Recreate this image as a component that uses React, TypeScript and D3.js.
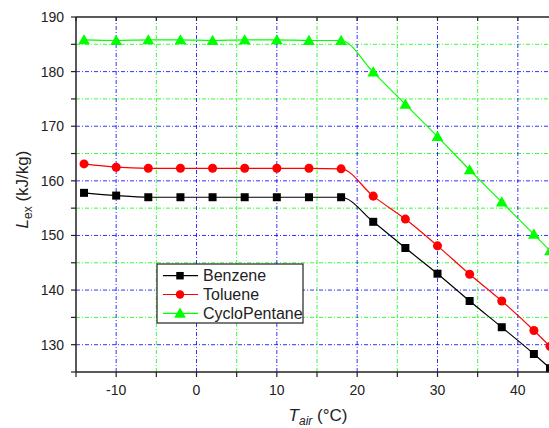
import React, { useEffect, useRef } from 'react';
import * as d3 from 'd3';

// air temperature (°C)
const tAir = [-14, -10, -6, -2, 2, 6, 10, 14, 18, 22, 26, 30, 34, 38, 42, 44];

// exergy loss (kJ/kg) for each fluid
const benzene = [157.8, 157.3, 157.0, 157.0, 157.0, 157.0, 157.0, 157.0, 157.0, 152.5, 147.7, 143.0, 138.0, 133.2, 128.3, 125.7];
const toluene = [163.1, 162.5, 162.3, 162.3, 162.3, 162.3, 162.3, 162.3, 162.2, 157.2, 153.0, 148.1, 142.9, 138.0, 132.6, 129.7];
const cycloPentane = [185.8, 185.7, 185.8, 185.8, 185.7, 185.8, 185.8, 185.7, 185.7, 179.9, 174.0, 168.1, 162.0, 156.1, 150.2, 147.2];

const seriesNames = ['Benzene', 'Toluene', 'CycloPentane'];
const seriesValues = [benzene, toluene, cycloPentane];
const seriesColors = ['#000000', '#ff0000', '#00ff00'];
const seriesSymbols = [d3.symbolSquare, d3.symbolCircle, d3.symbolTriangle];

const xTicks = [-10, 0, 10, 20, 30, 40];
const xMinor = [-15, -5, 5, 15, 25, 35, 45];
const yTicks = [130, 140, 150, 160, 170, 180, 190];
const yMinor = [125, 135, 145, 155, 165, 175, 185];

const App = () => {
  const svgRef = useRef<SVGSVGElement>(null);
  const width = 549;
  const height = 428;

  useEffect(() => {
    const svg = d3.select(svgRef.current);
    svg.selectAll('*').remove();

    const left = 76, top = 17, bottom = 372, right = 558;

    const xScale = d3.scaleLinear().domain([-15, 45]).range([left, right]);
    const yScale = d3.scaleLinear().domain([125, 190]).range([bottom, top]);

    const font = 'Arial, "Liberation Sans", sans-serif';
    const dash = '4,2,1,2';

    // grid
    const grid = svg.append('g');
    xMinor.filter(v => v > -15).forEach(v => {
      grid.append('line')
        .attr('x1', xScale(v)).attr('x2', xScale(v))
        .attr('y1', top).attr('y2', bottom)
        .attr('stroke', '#00ff00').attr('stroke-width', 1)
        .attr('stroke-dasharray', dash).attr('opacity', 0.8);
    });
    yMinor.filter(v => v > 125).forEach(v => {
      grid.append('line')
        .attr('x1', left).attr('x2', right)
        .attr('y1', yScale(v)).attr('y2', yScale(v))
        .attr('stroke', '#00ff00').attr('stroke-width', 1)
        .attr('stroke-dasharray', dash).attr('opacity', 0.8);
    });
    xTicks.forEach(v => {
      grid.append('line')
        .attr('x1', xScale(v)).attr('x2', xScale(v))
        .attr('y1', top).attr('y2', bottom)
        .attr('stroke', '#0000ff').attr('stroke-width', 1)
        .attr('stroke-dasharray', dash).attr('opacity', 0.8);
    });
    yTicks.filter(v => v < 190).forEach(v => {
      grid.append('line')
        .attr('x1', left).attr('x2', right)
        .attr('y1', yScale(v)).attr('y2', yScale(v))
        .attr('stroke', '#0000ff').attr('stroke-width', 1)
        .attr('stroke-dasharray', dash).attr('opacity', 0.8);
    });

    // series
    const line = d3.line<number>()
      .x((d, i) => xScale(tAir[i]))
      .y(d => yScale(d))
      .curve(d3.curveMonotoneX);

    seriesValues.forEach((vals, s) => {
      svg.append('path')
        .datum(vals)
        .attr('fill', 'none')
        .attr('stroke', seriesColors[s])
        .attr('stroke-width', 1.2)
        .attr('d', line);

      const sym = d3.symbol().type(seriesSymbols[s]).size(s === 2 ? 60 : 64);
      svg.selectAll(`.pt-${s}`)
        .data(vals)
        .enter()
        .append('path')
        .attr('class', `pt-${s}`)
        .attr('transform', (d, i) => `translate(${xScale(tAir[i])},${yScale(d) + (s === 2 ? 1 : 0)})`)
        .attr('d', sym)
        .attr('fill', seriesColors[s]);
    });

    // axes frame
    svg.append('line')
      .attr('x1', left).attr('x2', left).attr('y1', top).attr('y2', bottom)
      .attr('stroke', '#222').attr('stroke-width', 1.5);
    svg.append('line')
      .attr('x1', left).attr('x2', right).attr('y1', bottom).attr('y2', bottom)
      .attr('stroke', '#222').attr('stroke-width', 1.5);
    svg.append('line')
      .attr('x1', left).attr('x2', right).attr('y1', top).attr('y2', top)
      .attr('stroke', '#222').attr('stroke-width', 1.5);

    // ticks
    [...xTicks, ...xMinor].forEach(v => {
      svg.append('line')
        .attr('x1', xScale(v)).attr('x2', xScale(v))
        .attr('y1', bottom).attr('y2', bottom + 5)
        .attr('stroke', '#222').attr('stroke-width', 1.2);
      svg.append('line')
        .attr('x1', xScale(v)).attr('x2', xScale(v))
        .attr('y1', top).attr('y2', top + 4)
        .attr('stroke', '#222').attr('stroke-width', 1.2);
    });
    [...yTicks, ...yMinor].forEach(v => {
      svg.append('line')
        .attr('x1', left - 5).attr('x2', left)
        .attr('y1', yScale(v)).attr('y2', yScale(v))
        .attr('stroke', '#222').attr('stroke-width', 1.2);
    });

    xTicks.forEach(v => {
      svg.append('text')
        .attr('x', xScale(v)).attr('y', 395)
        .attr('text-anchor', 'middle')
        .style('font-family', font).style('font-size', '14px')
        .attr('fill', '#222')
        .text(v);
    });
    yTicks.forEach(v => {
      svg.append('text')
        .attr('x', 64).attr('y', yScale(v))
        .attr('dy', '0.35em')
        .attr('text-anchor', 'end')
        .style('font-family', font).style('font-size', '14px')
        .attr('fill', '#222')
        .text(v);
    });

    // axis titles
    const xt = svg.append('text')
      .attr('x', 318).attr('y', 421)
      .attr('text-anchor', 'middle')
      .style('font-family', font).style('font-size', '17px')
      .attr('fill', '#222');
    xt.append('tspan').style('font-style', 'italic').text('T');
    xt.append('tspan').style('font-style', 'italic').style('font-size', '12px').attr('dy', 4).text('air');
    xt.append('tspan').attr('dy', -4).text(' (°C)');

    const yt = svg.append('text')
      .attr('transform', `translate(28,${(top + bottom) / 2 - 5}) rotate(-90)`)
      .attr('text-anchor', 'middle')
      .style('font-family', font).style('font-size', '17px')
      .attr('fill', '#222');
    yt.append('tspan').style('font-style', 'italic').text('L');
    yt.append('tspan').style('font-size', '12px').attr('dy', 4).text('ex');
    yt.append('tspan').attr('dy', -4).text(' (kJ/kg)');

    // legend
    const legend = svg.append('g').attr('transform', 'translate(157,264)');
    legend.append('rect')
      .attr('width', 146).attr('height', 59)
      .attr('fill', '#fff').attr('stroke', '#222').attr('stroke-width', 1.2);
    seriesNames.forEach((name, s) => {
      const cy = 11.7 + s * 18.8;
      legend.append('line')
        .attr('x1', 6).attr('x2', 41).attr('y1', cy).attr('y2', cy)
        .attr('stroke', seriesColors[s]).attr('stroke-width', 1.2);
      legend.append('path')
        .attr('transform', `translate(23,${cy + (s === 2 ? 1 : 0)})`)
        .attr('d', d3.symbol().type(seriesSymbols[s]).size(s === 2 ? 60 : 56))
        .attr('fill', seriesColors[s]);
      legend.append('text')
        .attr('x', 46).attr('y', cy).attr('dy', '0.35em')
        .style('font-family', font).style('font-size', '16px')
        .attr('fill', '#222')
        .text(name);
    });
  }, []);

  return (
    <svg
      ref={svgRef}
      width={width}
      height={height}
      style={{ position: 'absolute', left: 0, top: 0, background: '#fff' }}
    />
  );
};

export default App;
